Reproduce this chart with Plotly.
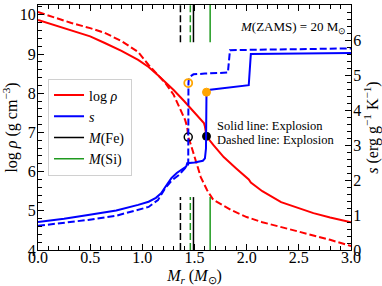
import plotly.graph_objects as go

# log rho, solid (explosion) and dashed
rho_s_m = [0.0, 0.15, 0.32, 0.5, 0.64, 0.8, 0.96, 1.06, 1.15, 1.2, 1.3, 1.4, 1.5, 1.56, 1.59, 1.6, 1.615, 1.68, 1.78, 1.9, 2.0, 2.02, 2.04, 2.15, 2.33, 2.5, 2.64, 2.8, 3.0]
rho_s_v = [9.87, 9.74, 9.61, 9.45, 9.28, 9.08, 8.85, 8.67, 8.46, 8.34, 8.08, 7.80, 7.50, 7.32, 7.24, 7.15, 6.90, 6.68, 6.37, 6.08, 5.84, 5.80, 5.72, 5.50, 5.22, 5.06, 4.94, 4.83, 4.71]
rho_d_m = [0.0, 0.15, 0.32, 0.5, 0.64, 0.8, 0.96, 1.06, 1.15, 1.22, 1.3, 1.37, 1.41, 1.43, 1.44, 1.46, 1.51, 1.56, 1.62, 1.68, 1.85, 2.0, 2.15, 2.33, 2.5, 2.64, 2.8, 3.0]
rho_d_v = [10.07, 9.94, 9.79, 9.66, 9.54, 9.33, 9.05, 8.72, 8.47, 8.26, 7.96, 7.57, 7.32, 7.14, 6.88, 6.73, 6.30, 5.86, 5.53, 5.28, 5.02, 4.84, 4.71, 4.59, 4.47, 4.38, 4.26, 4.10]

# entropy s, solid and dashed
s_s_m = [0.0, 0.25, 0.48, 0.75, 0.96, 1.06, 1.13, 1.18, 1.22, 1.28, 1.33, 1.375, 1.42, 1.43, 1.5, 1.58, 1.60, 1.61, 1.612, 1.615, 1.65, 1.8, 2.02, 2.04, 2.5, 3.0]
s_s_v = [0.80, 0.89, 1.0, 1.13, 1.29, 1.38, 1.49, 1.62, 1.80, 2.06, 2.20, 2.30, 2.38, 2.48, 2.50, 2.55, 2.62, 2.90, 4.30, 4.51, 4.58, 4.64, 4.71, 5.60, 5.61, 5.63]
s_d_m = [0.0, 0.25, 0.48, 0.75, 0.96, 1.06, 1.15, 1.22, 1.28, 1.35, 1.41, 1.44, 1.442, 1.445, 1.46, 1.49, 1.6, 1.82, 1.84, 2.5, 3.0]
s_d_v = [0.69, 0.77, 0.86, 0.98, 1.14, 1.23, 1.43, 1.77, 1.98, 2.14, 2.34, 2.45, 4.77, 4.86, 4.96, 5.02, 5.04, 5.07, 5.71, 5.73, 5.76]

# mass coordinates of Fe and Si cores (solid / dashed)
m_fe = [1.49, 1.365]
m_si = [1.65, 1.46]
mark_top = [9.3, 10.25]
mark_bot = [4.0, 5.35]

# special points
pt_m = [1.44, 1.615]
pt_rho = [6.88, 6.90]
pt_s = [4.77, 4.51]

RED = "#ff0000"
BLUE = "#0000ff"
GREEN = "#1f9a1f"
DASH = "7px,3px"
FONT = "Liberation Serif"

fig = go.Figure()

fig.add_trace(go.Scatter(x=rho_s_m, y=rho_s_v, mode="lines", line=dict(color=RED, width=2),
                         name="log <i>ρ</i>", legendrank=1))
fig.add_trace(go.Scatter(x=rho_d_m, y=rho_d_v, mode="lines", line=dict(color=RED, width=2, dash=DASH),
                         showlegend=False))
fig.add_trace(go.Scatter(x=s_s_m, y=s_s_v, mode="lines", line=dict(color=BLUE, width=2),
                         name="<i>s</i>", yaxis="y2", legendrank=2))
fig.add_trace(go.Scatter(x=s_d_m, y=s_d_v, mode="lines", line=dict(color=BLUE, width=2, dash=DASH),
                         showlegend=False, yaxis="y2"))

styles = ["solid", DASH]
for i in range(2):
    for seg in (mark_top, mark_bot):
        fig.add_trace(go.Scatter(x=[m_fe[i], m_fe[i]], y=seg, mode="lines",
                                 line=dict(color="black", width=1.5, dash=styles[i]), showlegend=False))
        fig.add_trace(go.Scatter(x=[m_si[i], m_si[i]], y=seg, mode="lines",
                                 line=dict(color=GREEN, width=1.5, dash=styles[i]), showlegend=False))

# legend-only entries
fig.add_trace(go.Scatter(x=[None], y=[None], mode="lines", line=dict(color="black", width=1.5),
                         name="<i>M</i>(Fe)", legendrank=3))
fig.add_trace(go.Scatter(x=[None], y=[None], mode="lines", line=dict(color=GREEN, width=1.5),
                         name="<i>M</i>(Si)", legendrank=4))

# markers
fig.add_trace(go.Scatter(x=[pt_m[0]], y=[pt_rho[0]], mode="markers", showlegend=False,
                         marker=dict(size=8, color="rgba(0,0,0,0)", line=dict(color="black", width=1.5))))
fig.add_trace(go.Scatter(x=[pt_m[1]], y=[pt_rho[1]], mode="markers", showlegend=False,
                         marker=dict(size=8, color="black", line=dict(color="black", width=1))))
fig.add_trace(go.Scatter(x=[pt_m[0]], y=[pt_s[0]], mode="markers", showlegend=False, yaxis="y2",
                         marker=dict(size=8, color="rgba(0,0,0,0)", line=dict(color="#ffa500", width=1.8))))
fig.add_trace(go.Scatter(x=[pt_m[1]], y=[pt_s[1]], mode="markers", showlegend=False, yaxis="y2",
                         marker=dict(size=8, color="#ffa500", line=dict(color="#ffa500", width=1))))

fig.add_annotation(x=0.99, y=0.91, xref="paper", yref="paper", xanchor="right", yanchor="middle",
                   text="<i>M</i>(ZAMS) = 20 M<sub>⊙</sub>", showarrow=False,
                   font=dict(family=FONT, size=13, color="black"))
fig.add_annotation(x=0.565, y=0.507, xref="paper", yref="paper", xanchor="left", yanchor="middle",
                   text="Solid line: Explosion", showarrow=False,
                   font=dict(family=FONT, size=12.5, color="black"))
fig.add_annotation(x=0.565, y=0.448, xref="paper", yref="paper", xanchor="left", yanchor="middle",
                   text="Dashed line: Explosion", showarrow=False,
                   font=dict(family=FONT, size=12.5, color="black"))

axis_common = dict(ticks="inside", showline=True, linecolor="black", linewidth=1.3, automargin=False,
                   tickcolor="black", ticklen=6, tickwidth=1.2, showgrid=False, zeroline=False,
                   tickfont=dict(family=FONT, size=16, color="black"))

fig.update_layout(
    template="none",
    width=382, height=286,
    margin=dict(l=38, r=31, t=5, b=36),
    paper_bgcolor="white", plot_bgcolor="white",
    font=dict(family=FONT, color="black"),
    xaxis=dict(range=[0, 3], dtick=0.5, tickformat=".1f", mirror="ticks", ticklabelstandoff=-7,
               minor=dict(dtick=0.1, ticks="inside", ticklen=3.5, tickcolor="black", tickwidth=1),
               title=dict(text="<i>M</i><sub><i>r</i></sub> (<i>M</i><sub>⊙</sub>)", standoff=6,
                          font=dict(family=FONT, size=16)),
               **axis_common),
    yaxis=dict(range=[4, 10.25], dtick=1, ticklabelstandoff=-2,
               minor=dict(dtick=0.2, ticks="inside", ticklen=3.5, tickcolor="black", tickwidth=1),
               title=dict(text="log <i>ρ</i> (g cm<sup>−3</sup>)", standoff=0,
                          font=dict(family=FONT, size=16)),
               **axis_common),
    yaxis2=dict(range=[0, 7], dtick=1, overlaying="y", side="right", ticklabelstandoff=-2,
                minor=dict(dtick=0.2, ticks="inside", ticklen=3.5, tickcolor="black", tickwidth=1),
                title=dict(text="<i>s</i> (erg g<sup>−1</sup> K<sup>−1</sup>)", standoff=0,
                           font=dict(family=FONT, size=16)),
                **axis_common),
    legend=dict(x=0.032, y=0.70, xanchor="left", yanchor="top",
                bgcolor="rgba(255,255,255,0.85)", bordercolor="#d0d0d0", borderwidth=1,
                font=dict(family=FONT, size=14, color="black"), itemwidth=30,
                tracegroupgap=0),
    showlegend=True,
)

fig.write_html("out.html", config={"displayModeBar": False},
               post_script="document.body.style.margin='0';document.body.style.padding='0';")
